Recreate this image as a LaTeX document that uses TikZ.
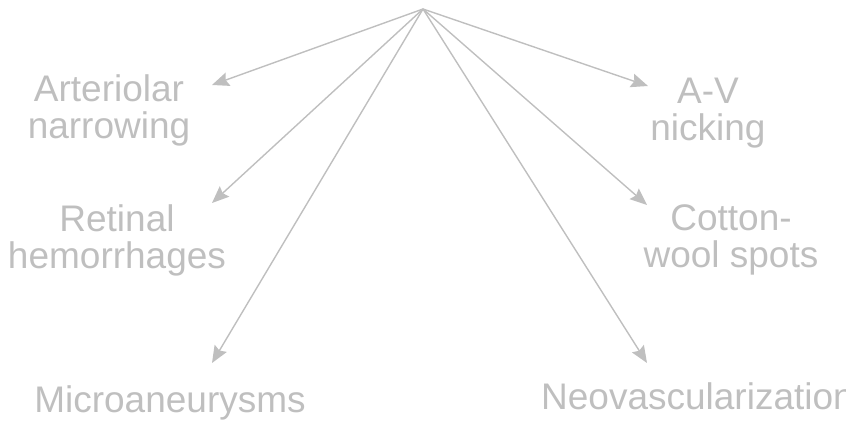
\documentclass[tikz,border=0pt]{standalone}
\usepackage{fontspec}
\setmainfont{Liberation Sans}
\usetikzlibrary{arrows.meta}
\definecolor{lightgr}{HTML}{BFBFBF}
\begin{document}
\begin{tikzpicture}[x=1pt,y=-1pt,
  lbl/.style={text=lightgr,font=\fontsize{37}{37}\selectfont,align=center,inner sep=0pt,anchor=base},
  conn/.style={draw=lightgr,line width=1.4pt,-{Stealth[length=17pt,width=14pt,inset=2.5pt]}}]
\useasboundingbox (0,0) rectangle (846,425);
\clip (0,0) rectangle (846,425);
\coordinate (src) at (423,9);
\coordinate (tArt) at (212,85);
\coordinate (tRet) at (212,203);
\coordinate (tMic) at (212,363);
\coordinate (tAV) at (648,86);
\coordinate (tCot) at (647,205);
\coordinate (tNeo) at (647,363);
\node[lbl] (art) at (109,139) {Arteriolar\\narrowing};
\node[lbl] (ret) at (117,268) {Retinal\\hemorrhages};
\node[lbl] (mic) at (170,412) {Microaneurysms};
\node[lbl] (av) at (708,141) {A-V\\nicking};
\node[lbl] (cot) at (731,267) {Cotton-\\wool spots};
\node[lbl,anchor=base west] (neo) at (541,409) {Neovascularization};
\draw[conn] (src) -- (tArt);
\draw[conn] (src) -- (tRet);
\draw[conn] (src) -- (tMic);
\draw[conn] (src) -- (tAV);
\draw[conn] (src) -- (tCot);
\draw[conn] (src) -- (tNeo);
\end{tikzpicture}
\end{document}
